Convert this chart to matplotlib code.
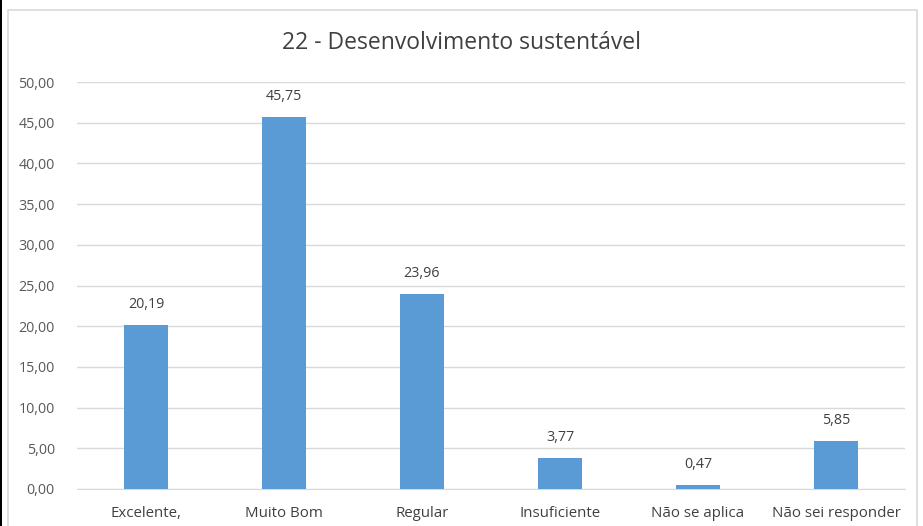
import matplotlib
matplotlib.use("Agg")
import matplotlib.pyplot as plt
from matplotlib.patches import Rectangle

categories = ["Excelente,", "Muito Bom", "Regular", "Insuficiente", "Não se aplica", "Não sei responder"]
values = [20.19, 45.75, 23.96, 3.77, 0.47, 5.85]
yticks = [0, 5, 10, 15, 20, 25, 30, 35, 40, 45, 50]

plt.rcParams['font.family'] = ['Open Sans', 'DejaVu Sans']
GREY = "#595959"

fig = plt.figure(figsize=(9.23, 5.26), dpi=100)
# chart frame
fig.patches.append(Rectangle((8/923, -0.01), (909)/923, 1 - 10/526 + 0.01,
                             transform=fig.transFigure, fill=False,
                             edgecolor="#d9d9d9", linewidth=1.2))
fig.patches.append(Rectangle((0, 0), 2/923, 1, transform=fig.transFigure,
                             facecolor="black", edgecolor="none"))

ax = fig.add_axes([77/923, 1 - 489/526, (905 - 77)/923, (489 - 82)/526])
x = range(len(categories))
bars = ax.bar(x, values, width=0.32, color="#5b9bd5", zorder=3)
for xi, v in zip(x, values):
    ax.text(xi, v + 1.6, f"{v:.2f}".replace(".", ","), ha="center", va="bottom",
            fontsize=10.3, color="#404040")

ax.set_ylim(0, 50)
ax.set_xlim(-0.5, len(categories) - 0.5)
ax.set_yticks(yticks)
ax.set_yticklabels([f"{t:.2f}".replace(".", ",") for t in yticks], fontsize=10.3, color=GREY)
ax.set_xticks(list(x))
ax.set_xticklabels(categories, fontsize=10.8, color="#404040")
ax.tick_params(length=0)
ax.tick_params(axis="x", pad=12)
ax.tick_params(axis="y", pad=16)
ax.grid(axis="y", color="#d9d9d9", linewidth=1, zorder=0)
for s in ["top", "right", "left"]:
    ax.spines[s].set_visible(False)
ax.spines["bottom"].set_color("#d9d9d9")

fig.text(0.5, 1 - 43/526, "22 - Desenvolvimento sustentável", ha="center", va="center",
         fontsize=16.5, color="#404040")

fig.savefig("out.png", dpi=100)
